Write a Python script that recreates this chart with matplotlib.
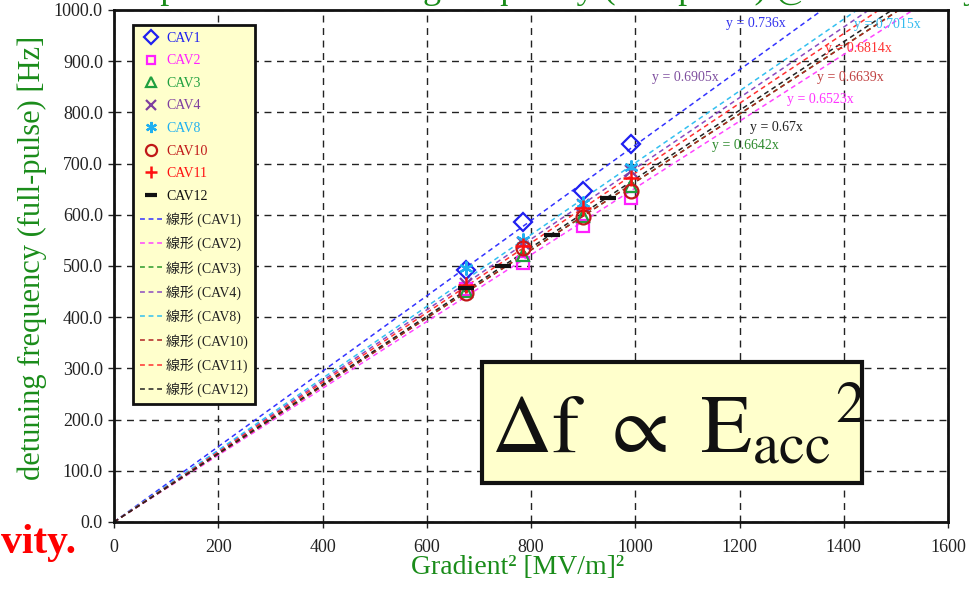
import matplotlib
matplotlib.use("Agg")
import matplotlib.pyplot as plt
from matplotlib.patches import Rectangle
import numpy as np

# ---------------- data ----------------
cavities = ["CAV1", "CAV2", "CAV3", "CAV4", "CAV8", "CAV10", "CAV11", "CAV12"]
grad2_main = [676, 784, 900, 992]
grad2_cav12 = [676, 747, 841, 948]

cav1 = [492, 586, 646, 738]
cav2 = [455, 505, 578, 633]
cav3 = [452, 522, 598, 656]
cav4 = [465, 545, 620, 685]
cav8 = [496, 551, 623, 693]
cav10 = [447, 535, 596, 646]
cav11 = [462, 540, 613, 672]
cav12 = [458, 500, 561, 632]

slopes = [0.736, 0.6523, 0.6642, 0.6905, 0.7015, 0.6639, 0.6814, 0.67]
fit_labels = ["y = 0.736x", "y = 0.6523x", "y = 0.6642x", "y = 0.6905x",
              "y = 0.7015x", "y = 0.6639x", "y = 0.6814x", "y = 0.67x"]

x_ticks = [0, 200, 400, 600, 800, 1000, 1200, 1400, 1600]
y_ticks = [0, 100, 200, 300, 400, 500, 600, 700, 800, 900, 1000]

# ---------------- styles ----------------
point_colors = ["#2020F0", "#FF20FF", "#20A040", "#7F3FA0", "#20B0F0", "#C01818", "#FF1010", "#111111"]
line_colors = ["#3333FF", "#FF44FF", "#2A9A2A", "#8A4AC0", "#33C0F0", "#B02020", "#FF3030", "#222222"]
label_colors = ["#3333EE", "#FF33FF", "#2E8B2E", "#7F4F9F", "#33BBEE", "#C04040", "#FF3333", "#222222"]
markers = ["D", "s", "^", "x", (6, 2, 0), "o", "+", "_"]
msizes = [9, 8, 9, 9, 10, 10, 11, 11]
mews = [1.6, 1.6, 1.6, 1.6, 1.6, 1.6, 1.8, 3.0]
# fit label positions (data coords)
label_pos = [(1231, 973), (1356, 826), (1212, 736), (1096, 869),
             (1483, 971), (1412, 869), (1429, 924), (1270, 771)]

serif = ["Liberation Serif", "Noto Sans CJK JP", "DejaVu Sans"]
plt.rcParams["font.family"] = serif
plt.rcParams["mathtext.fontset"] = "stix"

W, H = 969, 590
fig = plt.figure(figsize=(W / 100, H / 100), dpi=100)
fig.patch.set_facecolor("white")

ax_l, ax_r, ax_t, ax_b = 114, 948, 10, 522
ax = fig.add_axes([ax_l / W, 1 - ax_b / H, (ax_r - ax_l) / W, (ax_b - ax_t) / H])

ys = [cav1, cav2, cav3, cav4, cav8, cav10, cav11, cav12]
xs = [grad2_main] * 7 + [grad2_cav12]

# fit lines
xl = np.array([0, 1600])
line_handles = []
for i, s in enumerate(slopes):
    ln, = ax.plot(xl, s * xl, linestyle=(0, (3.2, 2.4)), color=line_colors[i], lw=1.1,
                  zorder=2, label="線形 (%s)" % cavities[i])
    line_handles.append(ln)

# points
point_handles = []
for i in range(8):
    filled = markers[i] in ("x", "+", "_") or isinstance(markers[i], tuple)
    h, = ax.plot(xs[i], ys[i], linestyle="none", marker=markers[i], ms=msizes[i],
                 mew=mews[i], mec=point_colors[i],
                 mfc=point_colors[i] if filled else "none", zorder=3, label=cavities[i])
    point_handles.append(h)

# fit labels
for i in range(8):
    ax.text(label_pos[i][0], label_pos[i][1], fit_labels[i], color=label_colors[i],
            fontsize=10, ha="center", va="center", zorder=4)

ax.set_xlim(0, 1600)
ax.set_ylim(0, 1000)
ax.set_xticks(x_ticks)
ax.set_yticks(y_ticks)
ax.set_xticklabels([str(v) for v in x_ticks])
ax.set_yticklabels(["%.1f" % v for v in y_ticks])
ax.tick_params(axis="both", direction="out", length=4, width=1, labelsize=13, colors="#222222")
ax.tick_params(axis="x", pad=8)
ax.tick_params(axis="y", pad=4)
ax.grid(True, color="#222222", linestyle=(0, (5, 4)), linewidth=1.0)
ax.set_axisbelow(True)
for sp in ax.spines.values():
    sp.set_linewidth(2.0)
    sp.set_color("#111111")

# legend
handles = point_handles + line_handles
leg = ax.legend(handles=handles, loc="upper left",
                bbox_to_anchor=(133 / W, 1 - 25 / H), bbox_transform=fig.transFigure,
                borderaxespad=0, fontsize=10, frameon=True, fancybox=False,
                framealpha=1, facecolor="#FFFFCC", edgecolor="#111111",
                handlelength=1.6, handletextpad=0.3, labelspacing=0.685,
                borderpad=0.5, numpoints=1, markerscale=0.8)
leg.get_frame().set_linewidth(2.0)
for i, t in enumerate(leg.get_texts()):
    t.set_color(point_colors[i] if i < 8 else "#222222")
leg.set_zorder(10)

# axis labels
fig.text(518 / W, 1 - 568 / H, "Gradient² [MV/m]²", color="#1A8C1A", fontsize=20,
         ha="center", va="center")
fig.text(32 / W, 1 - 258 / H, "detuning frequency (full-pulse) [Hz]", color="#1A8C1A",
         fontsize=22, rotation=90, ha="center", va="center")

# cut-off texts of the slide
fig.text(76 / W, 1 - 553 / H, "vity.", color="#FF0000", fontsize=30, fontweight="bold",
         ha="right", va="baseline")
fig.text(90 / W, 1 + 2 / H, "Comparison of detuning frequency (full-pulse) @ each cavity",
         color="#1A8C1A", fontsize=26, ha="left", va="baseline")

# formula box
bx0, bx1, by0, by1 = 482, 862, 362, 483
fig.add_artist(Rectangle((bx0 / W, 1 - by1 / H), (bx1 - bx0) / W, (by1 - by0) / H,
                         transform=fig.transFigure, facecolor="#FFFFCC",
                         edgecolor="#111111", linewidth=3, zorder=20))
fig.text((bx0 + bx1) / 2 / W + 0.006, 1 - 428 / H,
         r"$\Delta\mathrm{f}\ \propto\ \mathrm{E}_{\mathrm{acc}}{}^{\mathrm{2}}$",
         fontsize=60, ha="center", va="center", color="#111111", zorder=21)

fig.savefig("out.png", dpi=100)
